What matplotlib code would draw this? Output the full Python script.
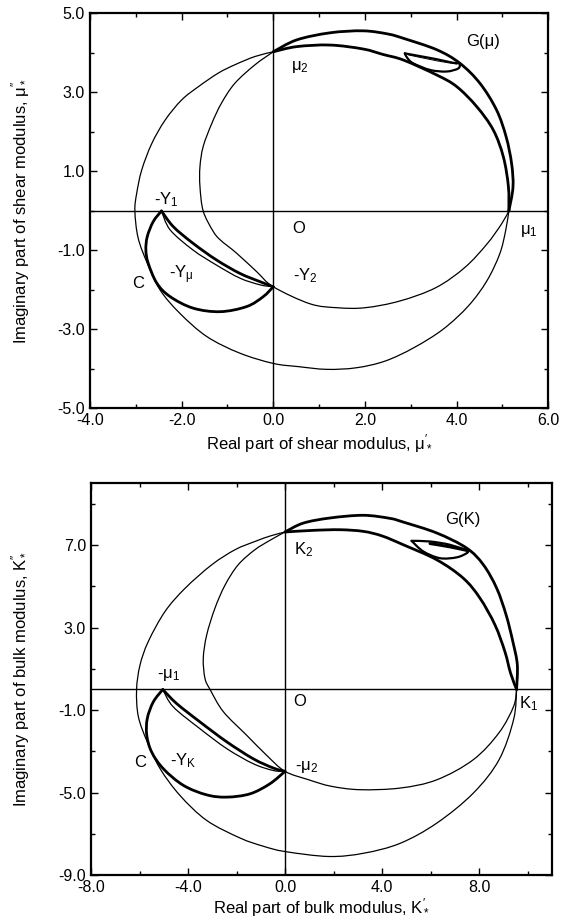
import numpy as np
import matplotlib
matplotlib.use("Agg")
from matplotlib import pyplot as plt
from matplotlib.path import Path
from matplotlib.patches import PathPatch
from matplotlib.ticker import MultipleLocator

plt.rcParams['font.family'] = ['Liberation Sans', 'DejaVu Sans']
plt.rcParams['mathtext.fontset'] = 'custom'
plt.rcParams['mathtext.rm'] = 'Liberation Sans'
plt.rcParams['mathtext.it'] = 'Liberation Sans'
plt.rcParams['mathtext.bf'] = 'Liberation Sans:bold'

# ---------------- shear modulus panel ----------------
mu_outer_x = [0.00, -0.40, -0.84, -1.20, -1.63, -2.00, -2.36, -2.65, -2.87, -2.98, -3.02, -2.95,
              -2.75, -2.47, -2.04, -1.45, -0.73, 0.00, 0.54, 1.17, 1.81, 2.44, 3.07, 3.71, 4.26,
              4.66, 4.94, 5.07, 5.14]
mu_outer_y = [4.03, 3.91, 3.70, 3.49, 3.15, 2.81, 2.30, 1.71, 1.04, 0.45, 0.00, -0.68,
              -1.32, -2.00, -2.59, -3.18, -3.60, -3.86, -3.94, -4.01, -3.97, -3.80, -3.46, -2.99, -2.40,
              -1.77, -1.09, -0.50, 0.00]

mu_inner_x = [0.00, -0.40, -0.84, -1.13, -1.34, -1.53, -1.60, -1.60, -1.53, -1.32, -1.16, -0.80,
              -0.36, 0.00, 0.80, 1.40, 2.00, 2.76, 3.55, 4.18, 4.66, 4.98, 5.14]
mu_inner_y = [4.03, 3.70, 3.23, 2.73, 2.22, 1.63, 1.12, 0.62, 0.00, -0.50, -0.73, -1.07,
              -1.54, -1.92, -2.35, -2.45, -2.45, -2.28, -1.94, -1.43, -0.84, -0.33, 0.00]

mu_g_low_x = [0.00, 0.51, 1.24, 1.96, 2.40, 2.84, 3.57, 4.00, 4.44, 4.80, 5.02, 5.13, 5.14]
mu_g_low_y = [4.03, 4.16, 4.20, 4.10, 3.96, 3.82, 3.44, 3.15, 2.64, 2.05, 1.37, 0.62, 0.00]

mu_g_up_x = [0.00, 0.51, 1.24, 1.96, 2.50, 2.84, 3.57, 4.07, 4.51, 4.87, 5.08, 5.20, 5.23, 5.14]
mu_g_up_y = [4.03, 4.33, 4.51, 4.56, 4.48, 4.37, 4.08, 3.74, 3.23, 2.56, 1.88, 1.20, 0.60, 0.00]

mu_lens_out_x = [-2.44, -2.62, -2.75, -2.78, -2.73, -2.54, -2.25, -1.75, -1.16, -0.58, -0.22, 0.00]
mu_lens_out_y = [0.00, -0.27, -0.65, -0.99, -1.32, -1.83, -2.17, -2.46, -2.55, -2.42, -2.17, -1.92]
mu_lens_up_x = [-2.44, -2.18, -1.75, -1.24, -0.73, -0.29, 0.00]
mu_lens_up_y = [0.00, -0.40, -0.82, -1.24, -1.58, -1.79, -1.92]
mu_lens_thin_x = [-2.44, -2.25, -1.75, -1.24, -0.73, -0.29, 0.00]
mu_lens_thin_y = [0.00, -0.48, -0.99, -1.37, -1.70, -1.87, -1.92]

# small loop inside G(mu): upper edge, lower edge, inner thin line
mu_small_up_x = [2.87, 3.20, 3.57, 3.93, 4.07]
mu_small_up_y = [3.99, 3.92, 3.84, 3.75, 3.74]
mu_small_lo_x = [2.87, 2.92, 3.05, 3.42, 3.78, 4.04, 4.07]
mu_small_lo_y = [3.99, 3.88, 3.74, 3.57, 3.53, 3.61, 3.74]
mu_small_in_x = [2.95, 3.57, 4.00]
mu_small_in_y = [3.95, 3.80, 3.72]

mu_labels = ["\u03bc$_2$", "G(\u03bc)", "-Y$_1$", "O", "\u03bc$_1$", "C", "-Y$_{\u03bc}$", "-Y$_2$"]
mu_label_x = [0.58, 4.58, -2.33, 0.55, 5.58, -2.94, -2.00, 0.69]
mu_label_y = [3.65, 4.29, 0.28, -0.44, -0.50, -1.83, -1.62, -1.65]

# ---------------- bulk modulus panel ----------------
k_outer_x = [0.00, -0.60, -1.24, -2.06, -3.02, -4.12, -4.95, -5.64, -5.98, -6.12, -6.05, -5.68,
             -5.15, -4.33, -3.23, -1.86, -0.90, 0.00, 1.81, 3.25, 4.75, 6.26, 7.77, 8.83, 9.43, 9.55]
k_outer_y = [7.64, 7.45, 7.18, 6.78, 6.05, 4.91, 3.78, 2.32, 1.18, 0.00, -1.30, -2.54,
             -3.84, -5.14, -6.35, -7.20, -7.60, -7.86, -8.10, -7.94, -7.46, -6.48, -5.02, -3.40, -1.44, 0.00]

k_inner_x = [0.00, -0.60, -1.24, -1.93, -2.47, -2.89, -3.23, -3.37, -3.30, -3.09, -2.54, -1.58,
             -0.75, 0.00, 0.98, 1.89, 3.09, 4.75, 6.26, 7.77, 8.83, 9.43, 9.55]
k_inner_y = [7.64, 7.25, 6.78, 6.05, 5.07, 3.94, 2.64, 1.51, 0.54, 0.00, -1.08, -2.22,
             -3.20, -3.97, -4.38, -4.69, -4.86, -4.78, -4.38, -3.40, -2.09, -0.81, 0.00]

k_g_low_x = [0.00, 1.17, 2.27, 3.23, 4.00, 4.88, 6.26, 7.35, 8.04, 8.66, 9.07, 9.30, 9.55]
k_g_low_y = [7.64, 7.72, 7.75, 7.67, 7.45, 7.02, 6.29, 5.40, 4.43, 3.13, 1.83, 0.80, 0.00]

k_g_up_x = [0.00, 0.75, 1.86, 3.23, 4.33, 4.88, 6.26, 7.49, 8.18, 8.73, 9.12, 9.40, 9.58, 9.55]
k_g_up_y = [7.64, 8.07, 8.32, 8.45, 8.30, 8.12, 7.59, 6.86, 6.05, 4.91, 3.61, 2.30, 1.20, 0.00]

k_lens_out_x = [-5.04, -5.43, -5.68, -5.70, -5.50, -5.02, -4.19, -3.23, -2.40, -1.44, -0.62, 0.00]
k_lens_out_y = [0.00, -0.60, -1.41, -2.22, -3.03, -3.84, -4.65, -5.11, -5.22, -5.06, -4.57, -3.97]
k_lens_up_x = [-5.04, -4.47, -3.51, -2.40, -1.31, -0.48, 0.00]
k_lens_up_y = [0.00, -0.68, -1.57, -2.54, -3.36, -3.81, -3.97]
k_lens_thin_x = [-5.04, -4.61, -3.51, -2.40, -1.31, -0.48, 0.00]
k_lens_thin_y = [0.00, -0.84, -1.90, -2.87, -3.60, -3.93, -3.97]

k_small_up_x = [5.22, 5.98, 6.80, 7.56]
k_small_up_y = [7.21, 7.18, 7.02, 6.73]
k_small_lo_x = [5.22, 5.70, 6.39, 7.08, 7.49, 7.56]
k_small_lo_y = [7.21, 6.70, 6.37, 6.41, 6.61, 6.73]
k_small_in_x = [5.98, 6.80, 7.56]
k_small_in_y = [7.08, 6.92, 6.73]

k_labels = ["K$_2$", "G(K)", "-\u03bc$_1$", "O", "K$_1$", "C", "-Y$_K$", "-\u03bc$_2$"]
k_label_x = [0.75, 7.35, -4.81, 0.60, 10.04, -5.98, -4.19, 0.90]
k_label_y = [6.78, 8.24, 0.70, -0.58, -0.68, -3.52, -3.44, -3.76]

THIN = 0.9
THICK = 2.0


def smoothPath(xs, ys):
    # draw the read points as one smooth bezier path (catmull-rom style tangents)
    p = np.column_stack([xs, ys]).astype(float)
    n = len(p)
    verts = [p[0]]
    codes = [Path.MOVETO]
    for i in range(n - 1):
        p0 = p[i - 1] if i > 0 else p[i]
        p3 = p[i + 2] if i + 2 < n else p[i + 1]
        c1 = p[i] + (p[i + 1] - p0) / 6.0
        c2 = p[i + 1] - (p3 - p[i]) / 6.0
        verts += [c1, c2, p[i + 1]]
        codes += [Path.CURVE4] * 3
    return Path(verts, codes)


def drawPanel(ax, curves, labels, lx, ly):
    ax.axhline(0, color='black', lw=1.0, zorder=1)
    ax.axvline(0, color='black', lw=1.0, zorder=1)
    for cx, cy, w in curves:
        ax.add_patch(PathPatch(smoothPath(cx, cy), fill=False, edgecolor='black', lw=w,
                               joinstyle='round', capstyle='round', zorder=2))
    for t, x, y in zip(labels, lx, ly):
        ax.text(x, y, t, ha='center', va='center', fontsize=12, zorder=3)
    ax.tick_params(which='both', direction='in', top=True, right=True, labelsize=11.5, width=1.0)
    ax.tick_params(which='major', length=5)
    ax.tick_params(which='minor', length=3)
    for sp in ax.spines.values():
        sp.set_linewidth(1.6)


fig = plt.figure(figsize=(5.72, 9.21), dpi=100)

ax1 = fig.add_axes([0.1573, 0.5565, 0.8012, 0.4289])
drawPanel(ax1, [
    (mu_outer_x, mu_outer_y, THIN),
    (mu_inner_x, mu_inner_y, THIN),
    (mu_g_low_x, mu_g_low_y, THICK),
    (mu_g_up_x, mu_g_up_y, THICK),
    (mu_lens_out_x, mu_lens_out_y, THICK),
    (mu_lens_up_x, mu_lens_up_y, THICK),
    (mu_lens_thin_x, mu_lens_thin_y, THIN),
    (mu_small_up_x, mu_small_up_y, 1.6),
    (mu_small_lo_x, mu_small_lo_y, 1.6),
    (mu_small_in_x, mu_small_in_y, 0.7),
], mu_labels, mu_label_x, mu_label_y)
ax1.set_xlim(-4, 6)
ax1.set_ylim(-5, 5)
ax1.xaxis.set_major_locator(MultipleLocator(2))
ax1.xaxis.set_minor_locator(MultipleLocator(1))
ax1.set_yticks([-5, -3, -1, 1, 3, 5])
ax1.yaxis.set_minor_locator(MultipleLocator(1))
ax1.xaxis.set_major_formatter(lambda v, p: f"{v:.1f}")
ax1.yaxis.set_major_formatter(lambda v, p: f"{v:.1f}")
ax1.set_xlabel("Real part of shear modulus, \u03bc$_*^{\\prime}$", fontsize=12, va='center')
ax1.set_ylabel("Imaginary part of shear modulus, \u03bc$_*^{\\prime\\prime}$", fontsize=12, va='center')
ax1.xaxis.set_label_coords(0.5, -0.087)
ax1.yaxis.set_label_coords(-0.152, 0.5)

ax2 = fig.add_axes([0.1591, 0.0499, 0.8055, 0.4253])
drawPanel(ax2, [
    (k_outer_x, k_outer_y, THIN),
    (k_inner_x, k_inner_y, THIN),
    (k_g_low_x, k_g_low_y, THICK),
    (k_g_up_x, k_g_up_y, THICK),
    (k_lens_out_x, k_lens_out_y, THICK),
    (k_lens_up_x, k_lens_up_y, THICK),
    (k_lens_thin_x, k_lens_thin_y, THIN),
    (k_small_up_x, k_small_up_y, 1.6),
    (k_small_lo_x, k_small_lo_y, 1.6),
    (k_small_in_x, k_small_in_y, 2.2),
], k_labels, k_label_x, k_label_y)
ax2.set_xlim(-8, 11)
ax2.set_ylim(-9, 10)
ax2.set_xticks([-8, -4, 0, 4, 8])
ax2.xaxis.set_minor_locator(MultipleLocator(2))
ax2.set_yticks([-9, -5, -1, 3, 7])
ax2.set_yticks([-7, -3, 1, 5, 9], minor=True)
ax2.xaxis.set_major_formatter(lambda v, p: f"{v:.1f}")
ax2.yaxis.set_major_formatter(lambda v, p: f"{v:.1f}")
ax2.set_xlabel("Real part of bulk modulus, K$_*^{\\prime}$", fontsize=12, va='center')
ax2.set_ylabel("Imaginary part of bulk modulus, K$_*^{\\prime\\prime}$", fontsize=12, va='center')
ax2.xaxis.set_label_coords(0.5, -0.082)
ax2.yaxis.set_label_coords(-0.154, 0.5)

fig.savefig("out.png", dpi=100)
